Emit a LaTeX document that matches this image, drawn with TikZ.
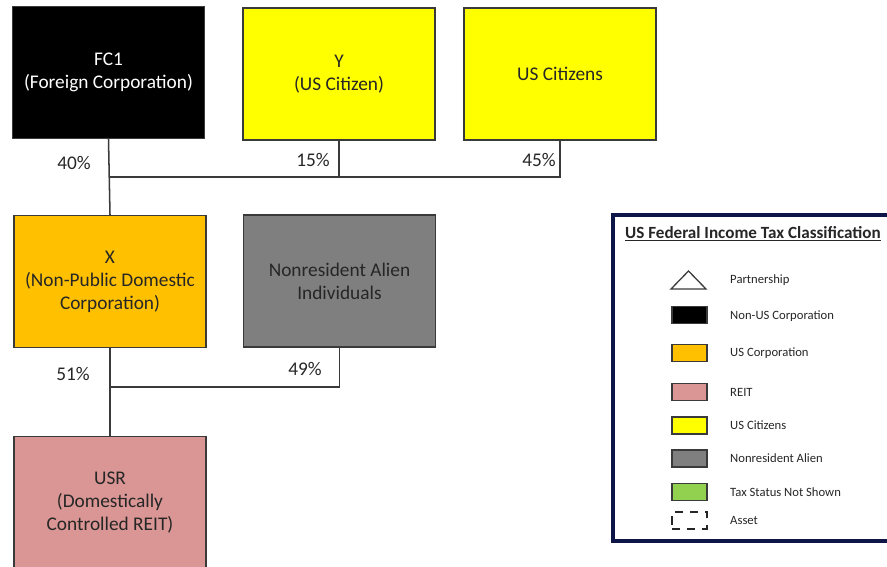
\documentclass[tikz,border=0pt]{standalone}
\usepackage{fontspec}
\setmainfont{Carlito}
\usetikzlibrary{positioning}
\definecolor{usyellow}{HTML}{FFFF00}
\definecolor{usorange}{HTML}{FFC000}
\definecolor{nragray}{HTML}{7F7F7F}
\definecolor{reitpink}{HTML}{D99694}
\definecolor{taxgreen}{HTML}{92D050}
\definecolor{legnavy}{HTML}{0E1547}
\definecolor{linegray}{HTML}{3A3A3A}
\definecolor{textgray}{HTML}{262626}
\newcommand{\boxfont}{\fontsize{16.5}{19.6}\selectfont}
\newcommand{\legfont}{\fontsize{10.8}{13}\selectfont}

\begin{document}
\begin{tikzpicture}[x=0.03cm,y=-0.03cm,
    entity/.style={draw=linegray,line width=1.2pt,minimum width=5.76cm,minimum height=3.96cm,
        inner sep=0pt,align=center,text=textgray,font=\boxfont},
    pct/.style={text=textgray,font=\boxfont,inner sep=0pt},
    own/.style={draw=linegray,line width=1.3pt},
    legsym/.style={draw=linegray,line width=1.1pt,minimum width=1.05cm,minimum height=0.51cm,inner sep=0pt},
    legtxt/.style={anchor=west,text=textgray,font=\legfont,inner sep=0pt}]
    \clip (0,0) rectangle (887,567);
    \useasboundingbox (0,0) rectangle (887,567);

    % owners
    \node[entity,fill=black,text=white] (fc1) at (108.5,72.5) {FC1\\(Foreign Corporation)};
    \node[entity,fill=usyellow] (y) at (339,74) {Y\\(US Citizen)};
    \node[entity,fill=usyellow] (uscit) at (560,74) {US Citizens};

    % middle tier
    \node[entity,fill=usorange] (x) at (110,281.5) {X\\(Non-Public Domestic\\Corporation)};
    \node[entity,fill=nragray] (nra) at (339.5,281) {Nonresident Alien\\Individuals};

    % REIT
    \node[entity,fill=reitpink] (usr) at (110,502.5) {USR\\(Domestically\\Controlled REIT)};

    % ownership lines
    \coordinate (jx) at (110,177);
    \draw[own] (fc1.south) -- (x.north);
    \draw[own] (jx) -| (y.south);
    \draw[own] (jx) -| (uscit.south);
    \coordinate (jusr) at (110,387);
    \draw[own] (x.south) -- (usr.north);
    \draw[own] (jusr) -| (nra.south);

    \node[pct] (p40) at (74,163) {40\%};
    \node[pct] (p15) at (313,160) {15\%};
    \node[pct] (p45) at (539,160) {45\%};
    \node[pct] (p51) at (73,374) {51\%};
    \node[pct] (p49) at (305,369) {49\%};

    % legend
    \draw[legnavy,line width=0.1cm] (613,215) rectangle (905,541);
    \node[text=textgray,font=\fontsize{14.6}{17}\selectfont\bfseries,inner sep=0pt] (legtitle) at (753,234)
        {\underline{US Federal Income Tax Classification}};

    \draw[linegray,line width=1.1pt] (671,289) -- (706,289) -- (688.5,271) -- cycle;
    \coordinate (leg1) at (688.5,280);
    \node[legsym,fill=black] (leg2) at (689.5,315) {};
    \node[legsym,fill=usorange] (leg3) at (689.5,353) {};
    \node[legsym,fill=reitpink] (leg4) at (689.5,392) {};
    \node[legsym,fill=usyellow] (leg5) at (689.5,425.5) {};
    \node[legsym,fill=nragray] (leg6) at (689.5,458.5) {};
    \node[legsym,fill=taxgreen] (leg7) at (689.5,492) {};
    \node[legsym,draw=textgray,dash pattern=on 7pt off 6pt] (leg8) at (689.5,520.5) {};

    \node[legtxt] (lab1) at (730,280) {Partnership};
    \node[legtxt] (lab2) at (730,316) {Non-US Corporation};
    \node[legtxt] (lab3) at (730,353) {US Corporation};
    \node[legtxt] (lab4) at (730,392) {REIT};
    \node[legtxt] (lab5) at (730,425.5) {US Citizens};
    \node[legtxt] (lab6) at (730,458.5) {Nonresident Alien};
    \node[legtxt] (lab7) at (730,492) {Tax Status Not Shown};
    \node[legtxt] (lab8) at (730,520.5) {Asset};
\end{tikzpicture}
\end{document}
